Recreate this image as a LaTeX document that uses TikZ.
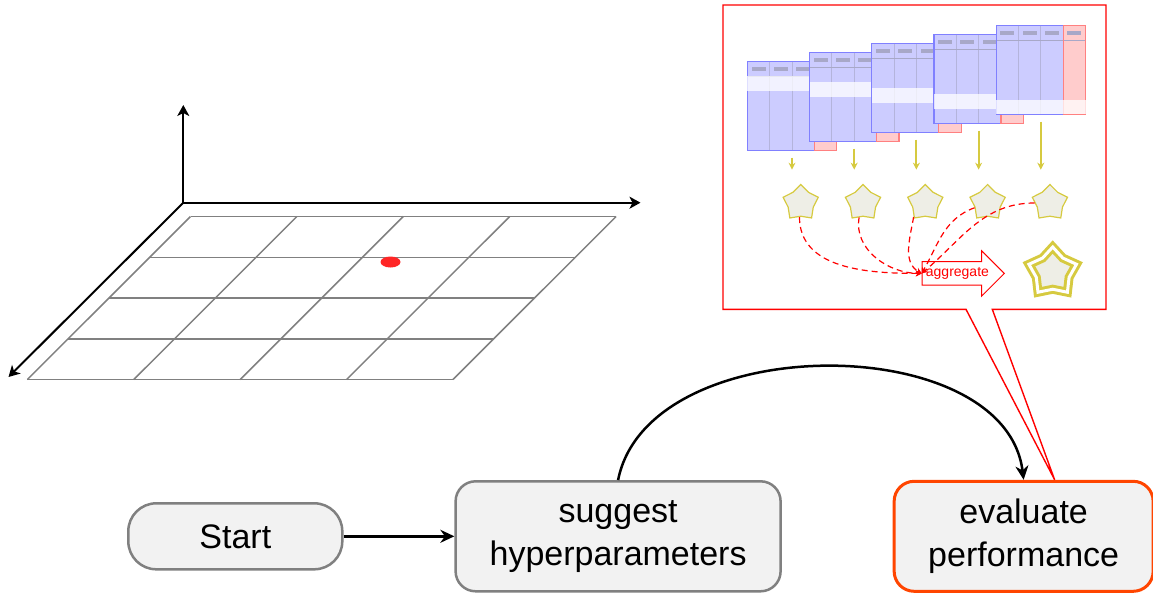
\documentclass[tikz,border=0pt]{standalone}
\usepackage{fontspec}
\setmainfont{Liberation Sans}
\usepackage{xcolor}
\usetikzlibrary{positioning}
\usetikzlibrary{arrows.meta}
\usetikzlibrary{shapes.geometric, shapes.arrows}

\definecolor{boxgray}{RGB}{242,242,242}
\definecolor{bordergray}{RGB}{128,128,128}
\definecolor{evalred}{RGB}{255,69,0}
\definecolor{tblblue}{RGB}{204,204,255}
\definecolor{tblred}{RGB}{255,204,204}
\definecolor{tbledge}{RGB}{128,128,255}
\definecolor{tblline}{RGB}{180,180,220}
\definecolor{tblbar}{RGB}{168,168,200}
\definecolor{staryellow}{RGB}{214,202,64}
\definecolor{starfill}{RGB}{238,238,230}

\begin{document}
\begin{tikzpicture}[
            x=0.5pt, y=-0.5pt,
            node distance=55.4pt,
            every node/.style={font=\fontsize{17}{21.5}\selectfont},
            flow box/.style={rectangle, rounded corners=10pt, draw=bordergray, line width=1.25pt, fill=boxgray, align=center, inner sep=0pt, minimum height=55pt},
            arrow style/.style={-{Stealth[length=7pt, width=6.5pt]}, line width=1.25pt},
            axis/.style={-{Stealth[length=5.5pt, width=6pt, inset=1.5pt]}, line width=1pt},
            grid line/.style={bordergray, line width=0.75pt},
            table slot/.style={rectangle, inner sep=0pt, minimum width=44.7pt, minimum height=44.5pt},
            minor star/.style={star, star points=5, star point ratio=1.4, minimum size=18.5pt, inner sep=0pt, draw=staryellow, fill=starfill, line width=0.6pt},
            major star/.style={star, star points=5, star point ratio=1.45, minimum size=25pt, inner sep=0pt, draw=staryellow, fill=starfill, line width=1.5pt, double=white, double distance=1.5pt},
            score arrow/.style={staryellow, line width=1pt, -{Stealth[length=3.5pt, width=3.5pt]}, shorten <=3.5pt, shorten >=7pt},
            merge/.style={red, dashed, dash pattern=on 3pt off 2pt, line width=0.6pt, -{Stealth[length=3pt, width=3pt]}},
            aggregate arrow/.style={single arrow, draw=red, fill=white, text=red, font=\fontsize{7}{8}\selectfont, line width=0.5pt, inner xsep=1.6pt, inner ysep=2.6pt, single arrow head extend=5.5pt}
        ]

        \useasboundingbox (0,0) rectangle (1153,594);

        % search space
        \foreach \i in {0,...,4}
            \draw[grid line] (190.5-\i*40.78,216.5+\i*40.75) -- ++(425.5,0);
        \foreach \j in {0,...,4}
            \draw[grid line] (190.5+\j*106.4,216.5) -- (27.4+\j*106.4,379.5);
        \fill[red!85] (390.5,262) ellipse [x radius=5pt, y radius=2.75pt];

        \coordinate (O) at (183.3,202.7);
        \coordinate (xEnd) at (640.5,202.7);
        \coordinate (yEnd) at (183.3,105);
        \coordinate (zEnd) at (8.5,377);
        \draw[axis] (O) -- (xEnd);
        \draw[axis] (O) -- (yEnd);
        \draw[axis] (O) -- (zEnd);

        % flow
        \node[flow box, rounded corners=14pt, minimum width=107pt, minimum height=33pt] (start) at (235.3,536.3) {Start};
        \node[flow box, minimum width=162.5pt, right=of start] (suggest) {suggest\\hyperparameters};
        \node[flow box, draw=evalred, line width=1.5pt, minimum width=129.5pt, right=of suggest] (eval) {evaluate\\performance};

        \draw[arrow style] (start) -- (suggest);
        \draw[arrow style] (suggest.north) .. controls (648,329) and (1005,329) .. (eval.north);

        % cross-validation folds
        \coordinate (tip) at ([xshift=15.5pt]eval.north);
        \draw[red, line width=0.7pt] (723,5) -- (1106,5) -- (1106,309.3) -- (992.3,309.3) -- (tip) -- (966,309.3) -- (723,309.3) -- cycle;

        \foreach \k in {1,...,5} {
            \pgfmathsetmacro\tx{747.3+(\k-1)*62.2}
            \pgfmathsetmacro\ty{61.3-(\k-1)*9}
            \pgfmathsetmacro\by{\ty+15+(\k-1)*14.8}
            \pgfmathsetmacro\sx{800.7+(\k-1)*62.3}
            \fill[tblblue] (\tx,\ty) rectangle ++(67.05,89);
            \fill[tblred] (\tx+67.05,\ty) rectangle ++(22.35,89);
            \foreach \col in {1,2,3}
                \draw[tblline, line width=0.5pt] (\tx+\col*22.35,\ty) -- ++(0,89);
            \draw[tblbar, line width=0.6pt] (\tx,\ty+15) -- ++(89.4,0);
            \foreach \col in {0,...,3}
                \fill[tblbar] (\tx+\col*22.35+4.2,\ty+5.8) rectangle ++(14,3.5);
            \draw[tbledge, line width=0.6pt] (\tx,\ty) rectangle ++(67.05,89);
            \draw[red!50, line width=0.6pt] (\tx+67.05,\ty) rectangle ++(22.35,89);
            \fill[white, fill opacity=0.75] (\tx,\by) rectangle ++(89.4,14.8);
            \node[table slot] (t\k) at (\tx+44.7,\ty+44.5) {};
            \node[minor star] (s\k) at (\sx,203) {};
            \draw[score arrow] (t\k.south) -- (t\k.south |- s\k.north);
        }

        \node[aggregate arrow, anchor=tail] (agg) at (921.7,273.4) {aggregate};
        \node[major star] (best) at (1052.7,272) {};

        \draw[merge] (s1.265) to[out=-90, in=180] (agg.tail);
        \draw[merge] (s2.255) to[out=-100, in=180] (agg.tail);
        \draw[merge] (s3.230) to[out=-100, in=150] (agg.tail);
        \draw[merge] (s4.200) to[out=200, in=60] (agg.tail);
        \draw[merge] (s5.180) to[out=180, in=40] (agg.tail);
        \end{tikzpicture}
\end{document}
